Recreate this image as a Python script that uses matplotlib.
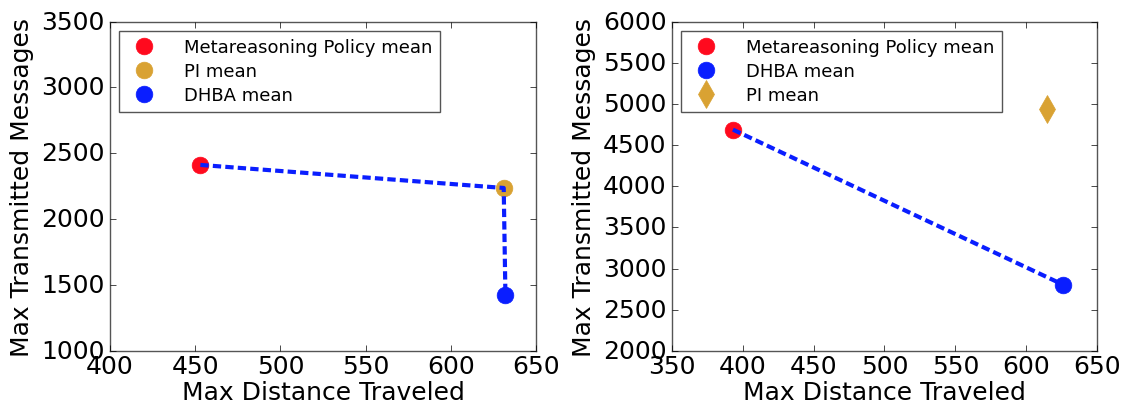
import matplotlib
matplotlib.use("Agg")
import matplotlib.pyplot as plt

plt.style.use("classic")

# left panel
left_labels = ["Metareasoning Policy mean", "PI mean", "DHBA mean"]
left_dist = [453, 631, 632]
left_msgs = [2412, 2237, 1425]

# right panel
right_labels = ["Metareasoning Policy mean", "DHBA mean", "PI mean"]
right_dist = [393, 626, 615]
right_msgs = [4688, 2805, 4939]

RED = "#ff0a1e"
GOLD = "#d9a233"
BLUE = "#0a1eff"

fig = plt.figure(figsize=(11.31, 4.14), dpi=100, facecolor="white")
ax1 = fig.add_axes([0.0973, 0.150, 0.3767, 0.7954])
ax2 = fig.add_axes([0.5942, 0.150, 0.3757, 0.7954])

# left: dashed path through the three means
ax1.plot(left_dist, left_msgs, ls="--", color=BLUE, lw=3, dashes=(6, 3), zorder=3)
for lab, x, y, c in zip(left_labels, left_dist, left_msgs, [RED, GOLD, BLUE]):
    ax1.plot([x], [y], "o", color=c, mec=c, ms=12, label=lab, zorder=2)

# right: dashed line metareasoning -> DHBA
ax2.plot(right_dist[:2], right_msgs[:2], ls="--", color=BLUE, lw=3, dashes=(6, 3), zorder=3)
styles = [("o", RED, 12), ("o", BLUE, 12), ("d", GOLD, 14)]
for lab, x, y, (m, c, s) in zip(right_labels, right_dist, right_msgs, styles):
    ax2.plot([x], [y], m, color=c, mec=c, ms=s, label=lab, zorder=2)

ax1.set_xlim(400, 650)
ax1.set_ylim(1000, 3500)
ax2.set_xlim(350, 650)
ax2.set_ylim(2000, 6000)

for ax in (ax1, ax2):
    ax.set_xlabel("Max Distance Traveled", fontsize=18, labelpad=2)
    ax.set_ylabel("Max Transmitted Messages", fontsize=18)
    ax.tick_params(labelsize=18)
    ax.tick_params(axis="x", pad=2)
    for sp in ax.spines.values():
        sp.set_color("#555555")
    leg = ax.legend(loc="upper left", numpoints=1, fontsize=13, fancybox=False,
                    handletextpad=1.2, borderpad=0.4, labelspacing=0.35)
    leg.get_frame().set_edgecolor("#555555")

fig.savefig("out.png", dpi=100, facecolor="white")
